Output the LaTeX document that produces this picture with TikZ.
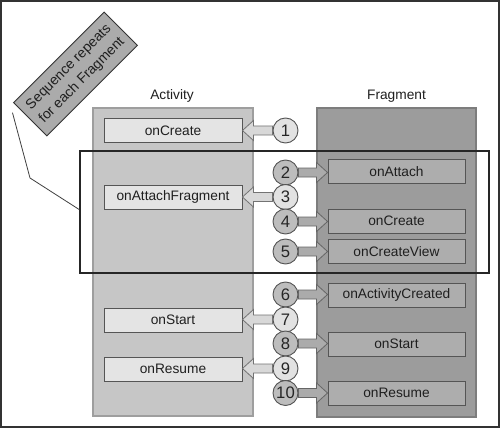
\documentclass[tikz,border=0pt]{standalone}
\usepackage{fontspec}
\setmainfont{Liberation Sans}
\usetikzlibrary{calc}
\definecolor{actcol}{HTML}{C6C6C6}
\definecolor{fracol}{HTML}{9C9C9C}
\definecolor{aboxfill}{HTML}{E4E4E4}
\definecolor{fboxfill}{HTML}{ADADAD}
\definecolor{edge}{HTML}{555555}
\definecolor{lightc}{HTML}{E2E2E2}
\definecolor{darkc}{HTML}{BDBDBD}
\definecolor{larfill}{HTML}{D8D8D8}
\definecolor{rarfill}{HTML}{ABABAB}
\definecolor{seqfill}{HTML}{ABABAB}
\newcommand\pxl[1]{#1*0.75pt}
\tikzset{
  txt/.style={font=\fontsize{10.3}{12}\selectfont, text=black!88},
  column/.style={draw=#1!80!black, line width=0.8pt, inner sep=0pt, minimum width=\pxl{160}, minimum height=\pxl{308}},
  abox/.style={txt, draw=edge, line width=0.7pt, fill=aboxfill, inner sep=0pt, minimum width=\pxl{138}, minimum height=\pxl{24}},
  fbox/.style={txt, draw=edge, line width=0.7pt, fill=fboxfill, inner sep=0pt, minimum width=\pxl{137}, minimum height=\pxl{24}},
  numc/.style={circle, draw=edge, line width=0.7pt, inner sep=0pt, minimum size=\pxl{25}, font=\fontsize{12.5}{14}\selectfont, text=black!85},
  lnum/.style={numc, fill=lightc},
  dnum/.style={numc, fill=darkc},
  larrow/.style={draw=black!55, line width=0.6pt, fill=larfill},
  rarrow/.style={draw=black!60, line width=0.6pt, fill=rarfill},
  frame/.style={draw=black!85, line width=1.2pt},
}
\newcommand\larr[2]{%
  \draw[larrow] ($(#1.west)+(0,-4.5)$) -- ($(#2.east |- #1.west)+(11,-4.5)$) -- ($(#2.east |- #1.west)+(11,-10)$) -- (#2.east |- #1.west) -- ($(#2.east |- #1.west)+(11,10)$) -- ($(#2.east |- #1.west)+(11,4.5)$) -- ($(#1.west)+(0,4.5)$) -- cycle;}
\newcommand\rarr[2]{%
  \draw[rarrow] ($(#1.east)+(0,-4.5)$) -- ($(#2.west |- #1.east)+(-11,-4.5)$) -- ($(#2.west |- #1.east)+(-11,-10)$) -- (#2.west |- #1.east) -- ($(#2.west |- #1.east)+(-11,10)$) -- ($(#2.west |- #1.east)+(-11,4.5)$) -- ($(#1.east)+(0,4.5)$) -- cycle;}
\begin{document}
\begin{tikzpicture}[x=0.75pt,y=-0.75pt]
\useasboundingbox (0,0) rectangle (500,428);
\fill[white] (0,0) rectangle (500,428);
% columns
\node[column=actcol, fill=actcol] (actcolumn) at (173,262) {};
\node[column=fracol, fill=fracol, minimum width=\pxl{159}, minimum height=\pxl{309}] (fracolumn) at (396.5,262.5) {};
\node[txt] (actlabel) at (172,96) {Activity};
\node[txt] (fralabel) at (396.5,96) {Fragment};
% activity boxes
\node[abox] (aCreate) at (173,130.5) {onCreate};
\node[abox] (aAttach) at (173,197) {onAttachFragment};
\node[abox] (aStart) at (173,320) {onStart};
\node[abox] (aResume) at (173,369) {onResume};
% fragment boxes
\node[fbox] (fAttach) at (396.5,171.5) {onAttach};
\node[fbox] (fCreate) at (396.5,221) {onCreate};
\node[fbox] (fView) at (396.5,251.5) {onCreateView};
\node[fbox] (fActCr) at (396.5,295) {onActivityCreated};
\node[fbox] (fStart) at (396.5,344) {onStart};
\node[fbox] (fResume) at (396.5,393) {onResume};
% circles
\node[lnum] (n1) at (285.5,130.5) {1};
\node[dnum] (n2) at (285.5,172.5) {2};
\node[lnum] (n3) at (285.5,197) {3};
\node[dnum] (n4) at (285.5,221.5) {4};
\node[dnum] (n5) at (285.5,251.5) {5};
\node[dnum] (n6) at (285.5,294.5) {6};
\node[lnum] (n7) at (285.5,319.5) {7};
\node[dnum] (n8) at (285.5,343.5) {8};
\node[lnum] (n9) at (285.5,368.5) {9};
\node[dnum] (n10) at (285.5,393) {10};
% arrows
\larr{n1}{aCreate}
\rarr{n2}{fAttach}
\larr{n3}{aAttach}
\rarr{n4}{fCreate}
\rarr{n5}{fView}
\rarr{n6}{fActCr}
\larr{n7}{aStart}
\rarr{n8}{fStart}
\larr{n9}{aResume}
\rarr{n10}{fResume}
% repeat frame
\node[frame, inner sep=0pt, minimum width=\pxl{409}, minimum height=\pxl{122}] (rep) at (284.5,212) {};
\coordinate (repin) at ($(rep.north west)!0.48!(rep.south west)$);
% sequence label
\node[draw=black!80, line width=0.7pt, fill=seqfill, rotate=45, minimum width=\pxl{128}, minimum height=\pxl{47}, inner sep=0pt, align=center, font=\fontsize{10.5}{14}\selectfont, text=black!88] (seq) at (75.5,74) {Sequence repeats\\for each Fragment};
\coordinate (bend) at (30,178);
\draw[black!75, line width=0.6pt] ($(seq.north west)+(-0.5,10)$) -- (bend) -- (repin);
% outer frame
\draw[black!80, line width=1pt] (1,1) rectangle (499,427);
\end{tikzpicture}
\end{document}
